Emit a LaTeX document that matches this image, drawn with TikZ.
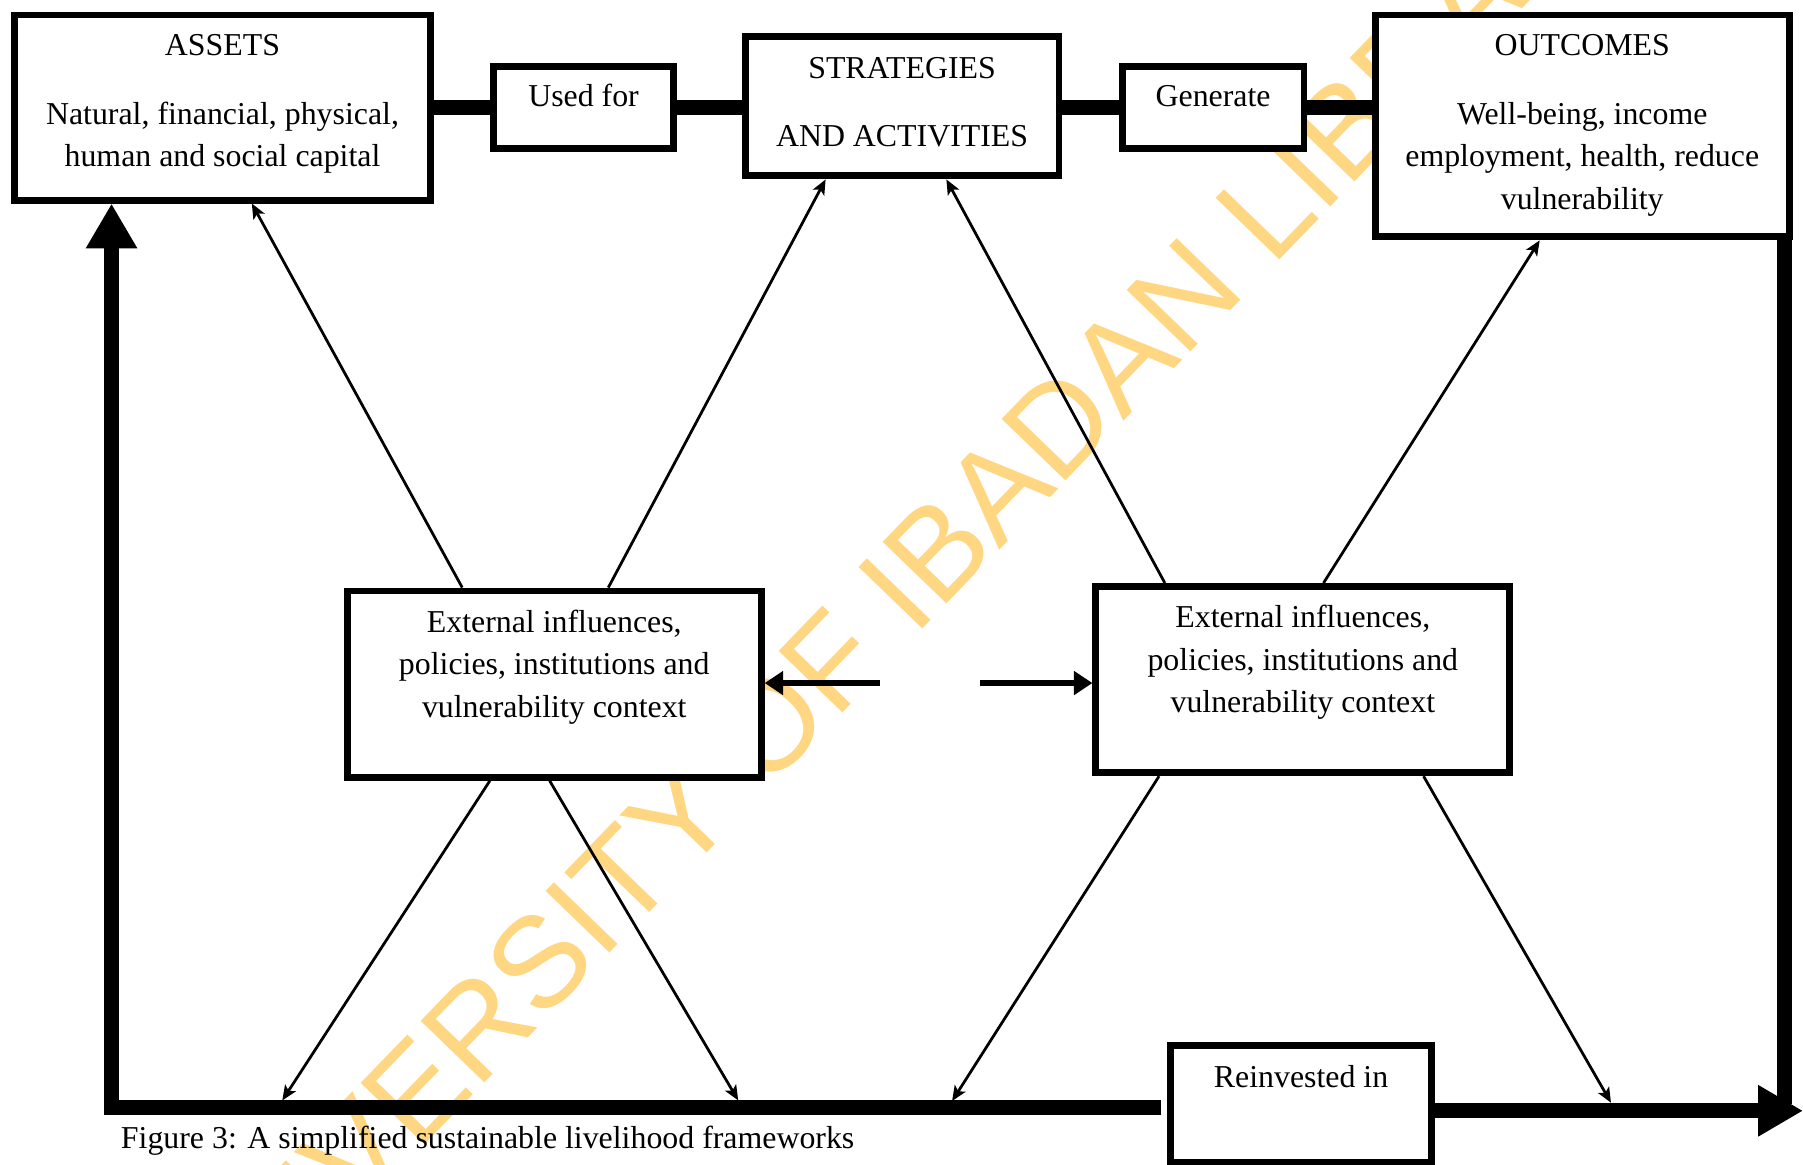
\documentclass[tikz,border=0pt]{standalone}
\usepackage{fontspec}
\setmainfont{Liberation Serif}
\setsansfont{Liberation Sans}
\usetikzlibrary{arrows.meta,calc}
\definecolor{wmorange}{RGB}{255,214,130}
\tikzset{
  lbl/.style={anchor=base, inner sep=0pt, font=\fontsize{27.7}{37}\selectfont},
  frame/.style={draw, line width=6pt, fill=white, inner sep=0pt},
  link/.style={line width=13pt},
  loop/.style={line width=13pt, -{Triangle[length=39pt,width=42pt]}},
  feed/.style={line width=6pt, -{Triangle[length=16pt,width=20pt]}},
  infl/.style={line width=2.4pt, -{Stealth[length=13pt,width=11pt,inset=3pt]}},
  stamp/.style={rotate=46, text=wmorange, inner sep=0pt,
    font=\sffamily\fontsize{112}{112}\selectfont},
}
\begin{document}
\begin{tikzpicture}[x=1pt,y=-1pt]
\useasboundingbox (0,0) rectangle (1568,1013);
\clip (0,0) rectangle (1568,1013);

% library stamp behind everything
\node[stamp] (stamp) at (780,515) {UNIVERSITY OF IBADAN LIBRARY};

% top row
\node[frame, minimum width=361pt, minimum height=161pt] (assets) at (193.5,93.5) {};
\node[frame, minimum width=157pt, minimum height=71pt] (usedfor) at (507.5,93.5) {};
\node[frame, minimum width=273pt, minimum height=121pt] (strat) at (784.5,92.5) {};
\node[frame, minimum width=158pt, minimum height=71pt] (generate) at (1055,93.5) {};
\node[frame, minimum width=360pt, minimum height=193pt] (outcomes) at (1376,109.5) {};

% influence boxes
\node[frame, minimum width=360pt, minimum height=162pt] (extL) at (482,595) {};
\node[frame, minimum width=360pt, minimum height=162pt] (extR) at (1133,591) {};

% reinvestment box
\node[frame, minimum width=227pt, minimum height=102pt] (reinv) at (1131.5,960) {};

% box texts
\node[lbl] (assets-a) at (assets |- 0,48) {ASSETS};
\node[lbl] (assets-b) at (assets |- 0,108) {Natural, financial, physical,};
\node[lbl] (assets-c) at (assets |- 0,145) {human and social capital};
\node[lbl] (usedfor-a) at (usedfor |- 0,93) {Used for};
\node[lbl] (strat-a) at (strat |- 0,68) {STRATEGIES};
\node[lbl] (strat-b) at (strat |- 0,127) {AND ACTIVITIES};
\node[lbl] (generate-a) at (generate |- 0,93) {Generate};
\node[lbl] (outcomes-a) at (outcomes |- 0,48) {OUTCOMES};
\node[lbl] (outcomes-b) at (outcomes |- 0,108) {Well-being, income};
\node[lbl] (outcomes-c) at (outcomes |- 0,145) {employment, health, reduce};
\node[lbl] (outcomes-d) at (outcomes |- 0,182) {vulnerability};
\node[lbl] (extL-a) at (extL |- 0,550) {External influences,};
\node[lbl] (extL-b) at (extL |- 0,587) {policies, institutions and};
\node[lbl] (extL-c) at (extL |- 0,624) {vulnerability context};
\node[lbl] (extR-a) at (extR |- 0,546) {External influences,};
\node[lbl] (extR-b) at (extR |- 0,583) {policies, institutions and};
\node[lbl] (extR-c) at (extR |- 0,620) {vulnerability context};
\node[lbl] (reinv-a) at (reinv |- 0,946) {Reinvested in};
\node[lbl, anchor=base west] (caption) at (105,999) {Figure 3: A simplified sustainable livelihood frameworks};

% top chain links
\draw[link] (assets.east |- usedfor.west) -- (usedfor.west);
\draw[link] (usedfor.east) -- (strat.west |- usedfor.east);
\draw[link] (strat.east |- generate.west) -- (generate.west);
\draw[link] (generate.east) -- (outcomes.west |- generate.east);

% feedback loops
\coordinate (lcorner) at (97,963.5);
\coordinate (lstart) at ($(reinv.west |- lcorner)+(-5,0)$);
\draw[loop] (lstart) -- (lcorner) -- (assets.south -| lcorner);
\coordinate (rbottom) at (1551.5,960);
\draw[link] (outcomes.south -| rbottom) -- (rbottom);
\coordinate (rtip) at (1568,966);
\draw[loop] (reinv.east |- rtip) -- (rtip);

% arrows between the influence boxes
\coordinate (fL) at (765,594);
\coordinate (fR) at (852,594);
\draw[feed] (fL) -- (extL.east |- fL);
\draw[feed] (fR) -- (extR.west |- fR);

% influence arrows
\draw[infl] (extL.north -| 402,0) -- (assets.south -| 219,0);
\draw[infl] (extL.north -| 529,0) -- (strat.south -| 718,0);
\draw[infl] (extR.north -| 1013,0) -- (strat.south -| 823,0);
\draw[infl] (extR.north -| 1151,0) -- (outcomes.south -| 1339,0);

\coordinate (d1) at (245.5,957);
\coordinate (d2) at (642,957);
\coordinate (d3) at (828,957.5);
\coordinate (d4) at (1401,959);
\draw[infl] (extL.south -| 426,0) -- (d1);
\draw[infl] (extL.south -| 478,0) -- (d2);
\draw[infl] (extR.south -| 1008,0) -- (d3);
\draw[infl] (extR.south -| 1238,0) -- (d4);
\end{tikzpicture}
\end{document}
